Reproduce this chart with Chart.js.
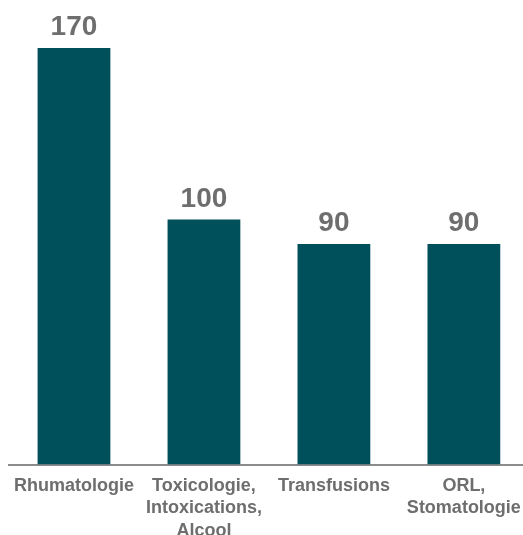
<!DOCTYPE html>
<html>
<head>
<meta charset="utf-8">
<script src="https://cdn.jsdelivr.net/npm/chart.js@4"></script>
<style>
  html, body { margin: 0; padding: 0; background: #ffffff; overflow: hidden; }
  #wrap { position: relative; width: 531px; height: 552px; }
</style>
</head>
<body>
<div id="wrap"><canvas id="chart"></canvas></div>
<script>
// Catégories (libellés sur plusieurs lignes) et effectifs
const categories = [
  ["Rhumatologie"],
  ["Toxicologie,", "Intoxications,", "Alcool"],
  ["Transfusions"],
  ["ORL,", "Stomatologie"]
];
const values = [170, 100, 90, 90];

const BAR_COLOR = "#00505B";
const TEXT_COLOR = "#6e6e6e";
const AXIS_COLOR = "#8c8c8c";
const FONT = "'Liberation Sans', Arial, sans-serif";

// Valeurs affichées au-dessus des barres
const valueLabels = {
  id: "valueLabels",
  afterDatasetsDraw(chart) {
    const ctx = chart.ctx;
    const meta = chart.getDatasetMeta(0);
    ctx.save();
    ctx.font = "bold 28px " + FONT;
    ctx.fillStyle = TEXT_COLOR;
    ctx.textAlign = "center";
    ctx.textBaseline = "alphabetic";
    meta.data.forEach((bar, i) => {
      ctx.fillText(String(values[i]), bar.x, bar.y - 13);
    });
    ctx.restore();
  }
};

new Chart(document.getElementById("chart"), {
  type: "bar",
  data: {
    labels: categories,
    datasets: [{
      data: values,
      backgroundColor: BAR_COLOR,
      borderWidth: 0,
      barPercentage: 0.56,
      categoryPercentage: 1.0
    }]
  },
  options: {
    responsive: true,
    maintainAspectRatio: false,
    animation: false,
    layout: { padding: { top: 48, left: 9, right: 1, bottom: 0 } },
    plugins: {
      legend: { display: false },
      tooltip: { enabled: false }
    },
    scales: {
      x: {
        grid: { display: false, drawTicks: false },
        border: { display: true, color: AXIS_COLOR, width: 2 },
        ticks: {
          autoSkip: false,
          maxRotation: 0,
          minRotation: 0,
          padding: 10,
          color: TEXT_COLOR,
          font: { family: FONT, size: 18, weight: "bold", lineHeight: 1.25 }
        }
      },
      y: {
        display: false,
        min: 0,
        max: 170
      }
    }
  },
  plugins: [valueLabels]
});
</script>
</body>
</html>
